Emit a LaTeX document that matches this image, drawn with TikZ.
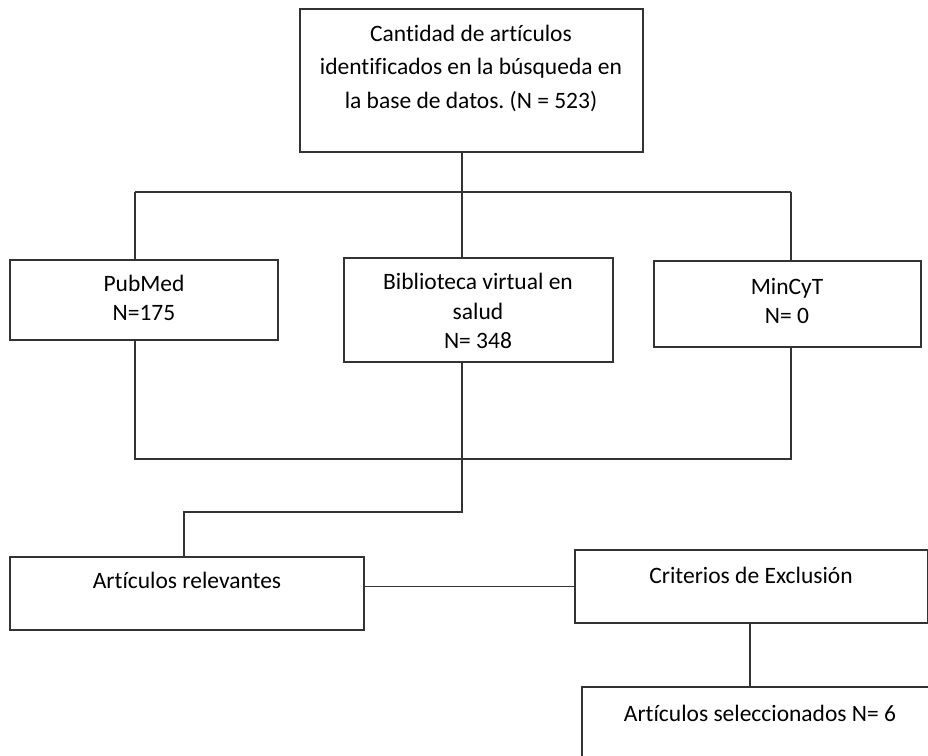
\documentclass[tikz,border=0pt]{standalone}
\usepackage{fontspec}
\setmainfont{Carlito}[Ligatures=NoCommon]
\frenchspacing
\begin{document}
\begin{tikzpicture}[x=1pt,y=-1pt,
  box/.style={draw=black!80, line width=1.2pt, rectangle, inner sep=0pt, outer sep=0pt, anchor=north west},
  txt/.style={align=center, inner sep=0pt, font=\fontsize{23.5}{29.5}\selectfont},
  conn/.style={draw=black!80, line width=1.2pt}]
\useasboundingbox (0,0) rectangle (928,755);
\fill[white] (0,0) rectangle (928,755);
% boxes
\node[box, minimum width=343pt, minimum height=143pt] (top) at (300,9) {};
\node[box, minimum width=268pt, minimum height=80pt] (pub) at (10,260) {};
\node[box, minimum width=269pt, minimum height=104pt] (bib) at (344,258) {};
\node[box, minimum width=267pt, minimum height=86pt] (min) at (654,261) {};
\node[box, minimum width=354pt, minimum height=73pt] (rel) at (10,557) {};
\node[box, minimum width=353pt, minimum height=73pt] (crit) at (575,550) {};
\node[box, minimum width=360pt, minimum height=90pt] (sel) at (582,687) {};
% texts
\node[txt, font=\fontsize{23.5}{33.5}\selectfont] (topt) at (471,68) {Cantidad de artículos\\identificados en la búsqueda en\\la base de datos. (N = 523)};
\node[txt] (pubt) at (144,298) {PubMed\\N=175};
\node[txt] (bibt) at (478,311) {Biblioteca virtual en\\salud\\N= 348};
\node[txt] (mint) at (787,301) {MinCyT\\N= 0};
\node[txt] (relt) at (187,580) {Artículos relevantes};
\node[txt] (critt) at (751,575) {Criterios de Exclusión};
\node[txt] (selt) at (760,713) {Artículos seleccionados N= 6};
% connectors
\coordinate (busL) at (135,192);
\coordinate (busM) at (462,192);
\coordinate (busR) at (791,192);
\draw[conn] (top.south -| busM) -- (busM);
\draw[conn] (busL) -- (busR);
\draw[conn] (busL) -- (busL |- pub.north);
\draw[conn] (busM) -- (busM |- bib.north);
\draw[conn] (busR) -- (busR |- min.north);
\coordinate (lowL) at (135,459);
\coordinate (lowM) at (462,459);
\coordinate (lowR) at (791,459);
\draw[conn] (lowL |- pub.south) -- (lowL) -- (lowR) -- (lowR |- min.south);
\draw[conn] (lowM |- bib.south) -- (lowM);
\coordinate (elb1) at (462,512);
\coordinate (elb2) at (184,512);
\draw[conn] (lowM) -- (elb1) -- (elb2) -- (elb2 |- rel.north);
\draw[conn] (rel.east |- crit.west) -- (crit.west);
\draw[conn] (crit.south -| 750,0) -- (750,0 |- sel.north);
\end{tikzpicture}
\end{document}
